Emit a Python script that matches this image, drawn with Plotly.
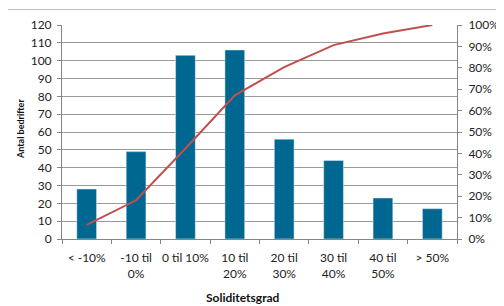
import plotly.graph_objects as go

categories = ["< -10%", "-10 til<br>0%", "0 til 10%", "10 til<br>20%", "20 til<br>30%",
              "30 til<br>40%", "40 til<br>50%", "> 50%"]
antal = [28, 49, 103, 106, 56, 44, 23, 17]
kumulativ = [0.066, 0.181, 0.423, 0.671, 0.803, 0.906, 0.960, 1.0]
left_ticks = list(range(0, 121, 10))
right_ticks = [i / 10 for i in range(11)]
right_labels = [f"{i*10}%" for i in range(11)]

# the page body has an 8px default margin, so figure coords = screen coords - 8
OFF = 8
W, H = 504, 306
L, R, T, B = 62 - OFF, 457 - OFF, 25 - OFF, 239 - OFF

fig = go.Figure()
fig.add_trace(go.Bar(x=categories, y=antal, marker=dict(color="#006890"),
                     width=0.4, yaxis="y"))
fig.add_trace(go.Scatter(x=categories, y=kumulativ, mode="lines",
                         line=dict(color="#C0504D", width=2), yaxis="y2"))

font = dict(family="Lato, Calibri, sans-serif", size=12, color="#222")

def px_x(p):
    return (p - OFF - L) / (R - L)

def px_y(p):
    return (B - (p - OFF)) / (B - T)

fig.update_layout(
    width=W, height=H,
    margin=dict(l=L, r=W - R, t=T, b=H - B, autoexpand=False),
    paper_bgcolor="white", plot_bgcolor="white",
    showlegend=False, font=font,
    xaxis=dict(showline=True, linecolor="#868686", linewidth=1, tickangle=0,
               automargin=False, ticklabelstandoff=8,
               ticks="outside", tickson="boundaries", ticklen=4, tickcolor="#868686",
               tickfont=font, showgrid=False),
    yaxis=dict(range=[0, 120], tickvals=left_ticks, showline=True, linecolor="#868686",
               ticks="outside", ticklen=4, tickcolor="#868686", automargin=False,
               ticklabelstandoff=3,
               showgrid=True, gridcolor="#999999", gridwidth=1, zeroline=False,
               tickfont=font),
    yaxis2=dict(range=[0, 1], overlaying="y", side="right", tickvals=right_ticks,
                ticktext=right_labels, showline=True, linecolor="#868686",
                ticks="outside", ticklen=4, tickcolor="#868686", showgrid=False,
                ticklabelstandoff=4,
                zeroline=False, tickfont=font, automargin=False),
    shapes=[dict(type="rect", xref="paper", yref="paper",
                 x0=px_x(7.5), x1=px_x(530), y0=px_y(330), y1=px_y(9.5),
                 line=dict(color="#BFBFBF", width=1), layer="below")],
    annotations=[
        dict(text="<b>Soliditetsgrad</b>", xref="paper", yref="paper",
             x=px_x(243), y=px_y(297), showarrow=False,
             font=dict(family="Lato, Calibri, sans-serif", size=12, color="#111"),
             xanchor="center", yanchor="middle"),
        dict(text="<b>Antal bedrifter</b>", xref="paper", yref="paper",
             x=px_x(20), y=px_y(129), showarrow=False, textangle=-90,
             font=dict(family="Lato, Calibri, sans-serif", size=9, color="#111"),
             xanchor="center", yanchor="middle"),
    ],
)

fig.write_html("out.html")
